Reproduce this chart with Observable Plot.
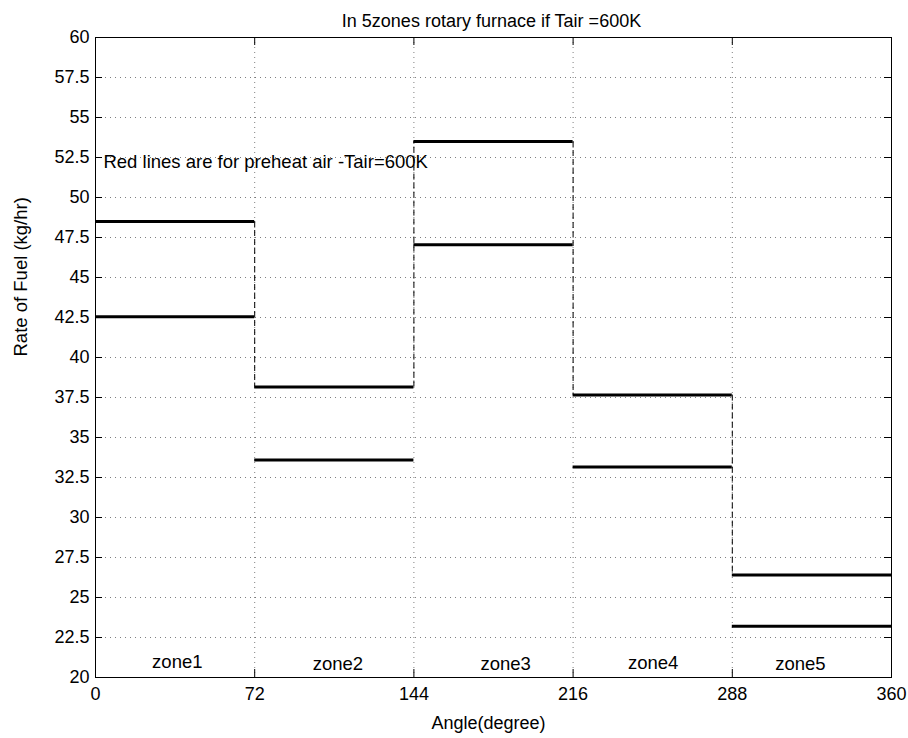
<!DOCTYPE html>
<html>
<head>
<meta charset="utf-8">
<script src="https://cdn.jsdelivr.net/npm/d3@7"></script>
<script src="https://cdn.jsdelivr.net/npm/@observablehq/plot@0.6"></script>
<style>
  html, body { margin: 0; padding: 0; background: #fff; }
  #chart { width: 908px; height: 738px; }
</style>
</head>
<body>
<div id="chart"></div>
<script>
// ---- data ----
const zoneStart = [0, 72, 144, 216, 288];
const zoneEnd = [72, 144, 216, 288, 360];
const upperRate = [48.5, 38.15, 53.5, 37.65, 26.4];
const lowerRate = [42.55, 33.6, 47.05, 33.15, 23.2];
const zoneLabels = ["zone1", "zone2", "zone3", "zone4", "zone5"];
const zoneLabelX = [25.6, 98.2, 174.1, 240.8, 307.4];
const zoneLabelY = [20.6, 20.45, 20.5, 20.55, 20.5];
const xTicks = [0, 72, 144, 216, 288, 360];
const yTicks = [20, 22.5, 25, 27.5, 30, 32.5, 35, 37.5, 40, 42.5, 45, 47.5, 50, 52.5, 55, 57.5, 60];
const titleText = "In 5zones rotary furnace if Tair =600K";
const xLabel = "Angle(degree)";
const yLabel = "Rate of Fuel (kg/hr)";
const noteText = "Red lines are for preheat air -Tair=600K";
const noteX = 3.6, noteY = 52.5;

// ---- derived tables ----
const segments = [];
zoneStart.forEach((s, i) => {
  segments.push({x1: s, x2: zoneEnd[i], y: upperRate[i]});
  segments.push({x1: s, x2: zoneEnd[i], y: lowerRate[i]});
});
const connectors = [];
for (let i = 0; i < zoneEnd.length - 1; i++) {
  connectors.push({x: zoneEnd[i], y1: upperRate[i], y2: upperRate[i + 1]});
}
const zoneText = zoneLabels.map((t, i) => ({t, x: zoneLabelX[i], y: zoneLabelY[i]}));

const W = 908, H = 738;
const mL = 95, mR = 17, mT = 37, mB = 61;
const innerW = W - mL - mR, innerH = H - mT - mB;
const fmt = d => String(d);

const chart = Plot.plot({
  width: W,
  height: H,
  marginLeft: mL,
  marginRight: mR,
  marginTop: mT,
  marginBottom: mB,
  style: {fontFamily: "'Liberation Sans', Arial, Helvetica, sans-serif", fontSize: "18px", background: "#fff", color: "#000"},
  x: {domain: [0, 360]},
  y: {domain: [20, 60]},
  marks: [
    // dotted grid
    Plot.gridX(xTicks, {stroke: "#000", strokeOpacity: 0.5, strokeDasharray: "1,4", strokeWidth: 1}),
    Plot.gridY(yTicks, {stroke: "#000", strokeOpacity: 0.5, strokeDasharray: "1,4", strokeWidth: 1}),
    // axes labels (no tick lines; inward ticks drawn below)
    Plot.axisX(xTicks, {tickSize: 0, tickPadding: 10, tickFormat: fmt, label: null, fontSize: 18}),
    Plot.axisY(yTicks, {tickSize: 0, tickPadding: 6, tickFormat: fmt, label: null, fontSize: 18}),
    // inward tick marks on all four sides
    Plot.tickX(xTicks, {x: d => d, insetTop: innerH - 8, stroke: "#000"}),
    Plot.tickX(xTicks, {x: d => d, insetBottom: innerH - 8, stroke: "#000"}),
    Plot.tickY(yTicks, {y: d => d, insetRight: innerW - 7, stroke: "#000"}),
    Plot.tickY(yTicks, {y: d => d, insetLeft: innerW - 7, stroke: "#000"}),
    // dashed vertical connectors
    Plot.ruleX(connectors, {x: "x", y1: "y1", y2: "y2", stroke: "#000", strokeWidth: 1, strokeDasharray: "6,3"}),
    // horizontal step levels
    Plot.ruleY(segments, {y: "y", x1: "x1", x2: "x2", stroke: "#000", strokeWidth: 3}),
    // frame
    Plot.frame({stroke: "#000", strokeWidth: 1}),
    // annotations
    Plot.text(zoneText, {x: "x", y: "y", text: "t", textAnchor: "start", lineAnchor: "bottom", fill: "#000", fontSize: 18.5}),
    Plot.text([noteText], {x: () => noteX, y: () => noteY, text: d => d, textAnchor: "start", lineAnchor: "middle", dy: 5, fill: "#000", fontSize: 18.5}),
    // title and axis labels
    Plot.text([titleText], {frameAnchor: "top", text: d => d, lineAnchor: "bottom", dy: -11, dx: -2, fill: "#000", fontSize: 18}),
    Plot.text([xLabel], {frameAnchor: "bottom", text: d => d, lineAnchor: "bottom", dy: 51, dx: -5, fill: "#000", fontSize: 18}),
    Plot.text([yLabel], {frameAnchor: "left", text: d => d, rotate: -90, lineAnchor: "bottom", dx: -69, dy: -1, fill: "#000", fontSize: 18.5})
  ]
});
document.getElementById("chart").appendChild(chart);
</script>
</body>
</html>
